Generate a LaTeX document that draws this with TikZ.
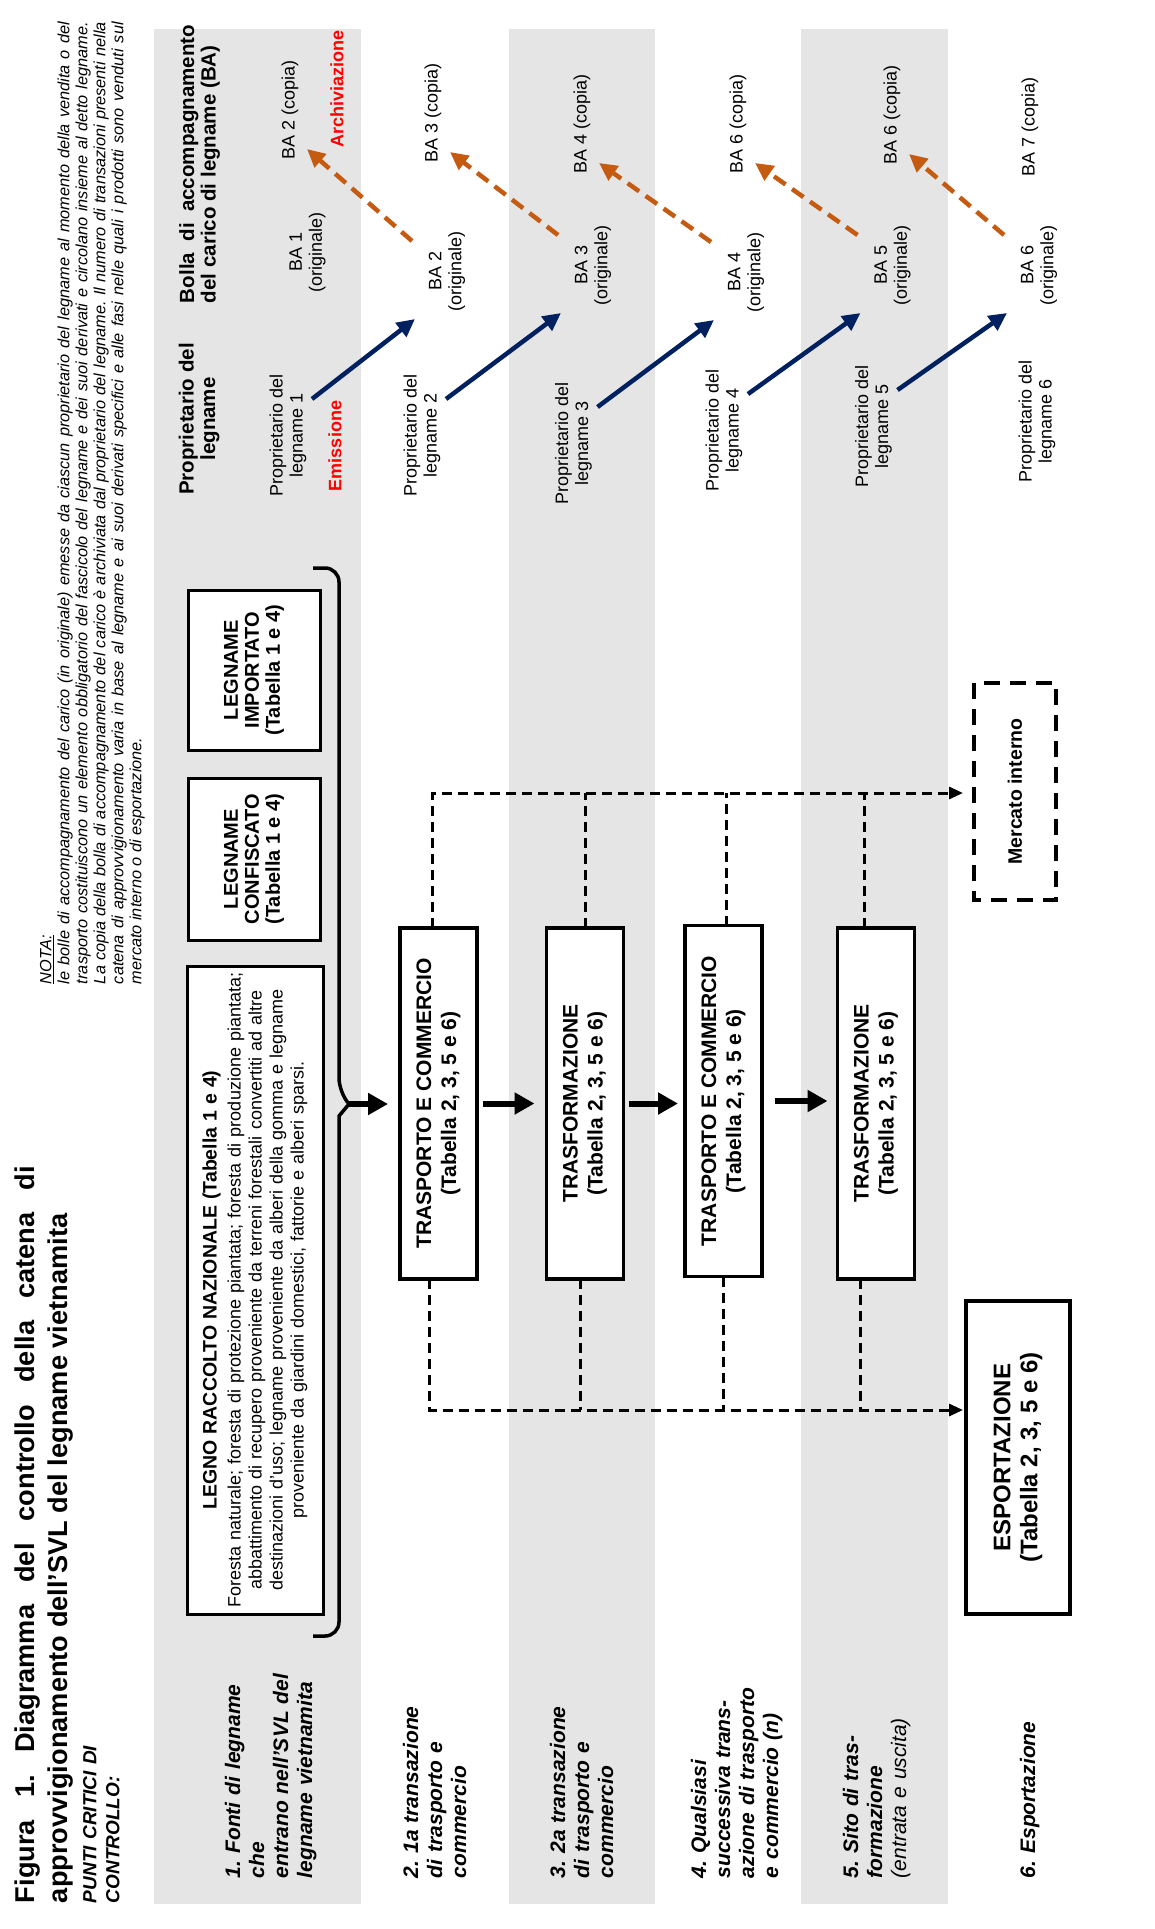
\documentclass[tikz,border=0pt]{standalone}
\usepackage{fontspec}
\setmainfont{Liberation Sans}
\usetikzlibrary{arrows.meta,calc}
\definecolor{bandgray}{RGB}{229,229,229}
\definecolor{navyblue}{RGB}{0,32,96}
\definecolor{burnt}{RGB}{197,90,17}
\definecolor{redlabel}{RGB}{255,0,0}
\newcommand{\setfs}[2]{\fontsize{#1}{#2}\selectfont}
\hyphenpenalty=10000
\exhyphenpenalty=10000
\frenchspacing
\begin{document}
\begin{tikzpicture}[x=1pt,y=-1pt,
  every node/.style={rotate=90, inner sep=0pt, outer sep=0pt},
  srcbox/.style={draw, line width=3pt, fill=white, align=center, font=\bfseries\setfs{20}{21}},
  flowbox/.style={draw, line width=3.5pt, fill=white, align=center, font=\bfseries\setfs{21}{25}, minimum width=351pt, minimum height=77pt},
  rowlabel/.style={anchor=north west, text width=215pt, align=left, font=\bfseries\itshape\setfs{21}{24}},
  ownertxt/.style={align=center, font=\setfs{18}{20}},
  redword/.style={font=\bfseries\setfs{18}{20}, text=redlabel},
  flowarrow/.style={line width=6pt, -{Triangle[length=20pt,width=21pt]}},
  dashconn/.style={line width=3pt, dash pattern=on 10pt off 6pt},
  dashtip/.style={-{Triangle[length=14pt,width=12pt]}},
  bluearrow/.style={line width=4.5pt, navyblue, -{Triangle[length=18pt,width=17pt]}},
  orangearrow/.style={line width=4.5pt, burnt, dash pattern=on 14pt off 8pt, -{Triangle[length=18pt,width=17pt]}},
]
\useasboundingbox (0,0) rectangle (1155,1929);
\fill[white] (0,0) rectangle (1155,1929);

% grey bands
\fill[bandgray] (154,29) rectangle (361,1904);
\fill[bandgray] (509,29) rectangle (655,1904);
\fill[bandgray] (801,29) rectangle (948,1904);

% title and note
\node[anchor=north west, text width=737pt, align=justify, font=\bfseries\setfs{27.2}{33}] (title) at (15,1903)
  {Figura 1. Diagramma del controllo della catena di\linebreak approvvigionamento dell'SVL del legname vietnamita};
\node[anchor=north west, text width=200pt, align=left, font=\bfseries\itshape\setfs{19}{23}] (punti) at (83,1903)
  {PUNTI CRITICI DI\\CONTROLLO:};
\node[anchor=north west, text width=962pt, align=justify, font=\itshape\setfs{16.3}{18}] (nota) at (40,984)
  {\underline{NOTA:}\\le bolle di accompagnamento del carico (in originale) emesse da ciascun proprietario del legname al momento della vendita o del\linebreak
   trasporto costituiscono un elemento obbligatorio del fascicolo del legname e dei suoi derivati e circolano insieme al detto legname.\linebreak
   La copia della bolla di accompagnamento del carico è archiviata dal proprietario del legname. Il numero di transazioni presenti nella\linebreak
   catena di approvvigionamento varia in base al legname e ai suoi derivati specifici e alle fasi nelle quali i prodotti sono venduti sul\linebreak
   mercato interno o di esportazione.};

% row labels
\node[rowlabel] (L1) at (225,1878) {1. Fonti di legname\\che\\entrano nell'SVL del\\legname vietnamita};
\node[rowlabel] (L2) at (403,1878) {2. 1a transazione\\di trasporto e\\commercio};
\node[rowlabel] (L3) at (550,1878) {3. 2a transazione\\di trasporto e\\commercio};
\node[rowlabel] (L4) at (691,1878) {4. Qualsiasi\\successiva trans-\\azione di trasporto\\e commercio (n)};
\node[rowlabel] (L5) at (843,1878) {5. Sito di tras-\\formazione\\ \mdseries (entrata e uscita)};
\node[rowlabel] (L6) at (1020,1878) {6. Esportazione};

% source boxes
\node[srcbox, minimum width=648pt, minimum height=136pt, text width=636pt, font=\setfs{18}{21}] (legno) at (255,1290)
  {{\bfseries\setfs{19.5}{23}LEGNO RACCOLTO NAZIONALE (Tabella 1 e 4)\par}\vspace{3pt}
   Foresta naturale; foresta di protezione piantata; foresta di produzione piantata;\\
   abbattimento di recupero proveniente da terreni forestali convertiti ad altre\\
   destinazioni d'uso; legname proveniente da alberi della gomma e legname\\
   proveniente da giardini domestici, fattorie e alberi sparsi.\par};
\node[srcbox, minimum width=162pt, minimum height=132pt] (confiscato) at (254,859) {LEGNAME\\CONFISCATO\\(Tabella 1 e 4)};
\node[srcbox, minimum width=160pt, minimum height=132pt] (importato) at (254,670) {LEGNAME\\IMPORTATO\\(Tabella 1 e 4)};

% brace
\draw[line width=3.5pt, rounded corners=14pt] (313,568) -- (339,568) -- (339,1092) [sharp corners] -- (349,1104) -- (339,1116) [rounded corners=14pt] -- (339,1636) -- (313,1636);
\coordinate (cusp) at (349,1104);

% flow boxes
\node[flowbox] (tc1) at (438.5,1103.5) {TRASPORTO E COMMERCIO\\(Tabella 2, 3, 5 e 6)};
\node[flowbox] (tc2) at (585,1103.5) {TRASFORMAZIONE\\(Tabella 2, 3, 5 e 6)};
\node[flowbox] (tc3) at (723.5,1101) {TRASPORTO E COMMERCIO\\(Tabella 2, 3, 5 e 6)};
\node[flowbox] (tc4) at (876,1103.5) {TRASFORMAZIONE\\(Tabella 2, 3, 5 e 6)};

\draw[flowarrow, shorten >=12pt] (cusp) -- (cusp -| tc1.north);
\draw[flowarrow, shorten <=6pt, shorten >=12pt] (tc1.south) -- (tc1.south -| tc2.north);
\draw[flowarrow, shorten <=5pt, shorten >=7pt] (tc2.south) -- (tc2.south -| tc3.north);
\draw[flowarrow, shorten <=13pt, shorten >=10pt] (tc3.south) -- (tc3.south -| tc4.north);

% destinations
\node[draw, line width=3.5pt, dash pattern=on 16pt off 10pt, minimum width=217pt, minimum height=82pt, font=\bfseries\setfs{19.5}{22}] (mercato) at (1015,791.5) {Mercato interno};
\node[draw, line width=4pt, fill=white, align=center, font=\bfseries\setfs{24}{27}, minimum width=313pt, minimum height=104pt] (export) at (1018,1457.5) {ESPORTAZIONE\\(Tabella 2, 3, 5 e 6)};

\coordinate (tl) at (963,793);
\coordinate (bl) at (963,1410);
\draw[dashconn, dashtip] ([xshift=-6pt]tc1.east) |- (tl);
\draw[dashconn] (tc2.east) -- (tc2.east |- tl);
\draw[dashconn] ([xshift=3pt]tc3.east) -- ([xshift=3pt]tc3.east |- tl);
\draw[dashconn] ([xshift=-12pt]tc4.east) -- ([xshift=-12pt]tc4.east |- tl);
\draw[dashconn, dashtip] ([xshift=-9pt]tc1.west) |- (bl);
\draw[dashconn] ([xshift=-5pt]tc2.west) -- ([xshift=-5pt]tc2.west |- bl);
\draw[dashconn] (tc3.west) -- (tc3.west |- bl);
\draw[dashconn] ([xshift=-16pt]tc4.west) -- ([xshift=-16pt]tc4.west |- bl);

% right-hand columns
\node[align=center, font=\bfseries\setfs{20.5}{21.5}] (hdrP) at (199,419) {Proprietario del\\legname};
\node[text width=278pt, align=justify, font=\bfseries\setfs{20.5}{21.5}] (hdrBA) at (199.5,164) {\parfillskip=0pt Bolla di accompagnamento del carico di legname (BA)};

\node[ownertxt] (P1) at (288,435) {Proprietario del\\legname 1};
\node[ownertxt] (P2) at (422,435) {Proprietario del\\legname 2};
\node[ownertxt] (P3) at (573.5,443) {Proprietario del\\legname 3};
\node[ownertxt] (P4) at (724,430) {Proprietario del\\legname 4};
\node[ownertxt] (P5) at (873.5,426) {Proprietario del\\legname 5};
\node[ownertxt] (P6) at (1037,421) {Proprietario del\\legname 6};

\node[ownertxt] (BA1) at (307.5,252) {BA 1\\(originale)};
\node[ownertxt] (BA2) at (447,271) {BA 2\\(originale)};
\node[ownertxt] (BA3) at (593,265) {BA 3\\(originale)};
\node[ownertxt] (BA4) at (746,272) {BA 4\\(originale)};
\node[ownertxt] (BA5) at (892.5,265) {BA 5\\(originale)};
\node[ownertxt] (BA6) at (1039,265) {BA 6\\(originale)};

\node[ownertxt] (C2) at (290,110) {BA 2 (copia)};
\node[ownertxt] (C3) at (433,113) {BA 3 (copia)};
\node[ownertxt] (C4) at (582,124) {BA 4 (copia)};
\node[ownertxt] (C6a) at (738,124) {BA 6 (copia)};
\node[ownertxt] (C6b) at (892,115) {BA 6 (copia)};
\node[ownertxt] (C7) at (1030,127) {BA 7 (copia)};

\node[redword] (emis) at (335,446) {Emissione};
\node[redword] (arch) at (337,89) {Archiviazione};

\draw[bluearrow] ($(P1.center)+(24,-36)$) -- ($(BA2.center)+(-32,48)$);
\draw[bluearrow] ($(P2.center)+(24,-36)$) -- ($(BA3.center)+(-32,48)$);
\draw[bluearrow] ($(P3.center)+(24,-36)$) -- ($(BA4.center)+(-32,48)$);
\draw[bluearrow] ($(P4.center)+(24,-36)$) -- ($(BA5.center)+(-32,48)$);
\draw[bluearrow] ($(P5.center)+(24,-36)$) -- ($(BA6.center)+(-32,48)$);

\draw[orangearrow] ($(BA2.center)+(-35,-30)$) -- ($(C2.center)+(17,39)$);
\draw[orangearrow] ($(BA3.center)+(-35,-30)$) -- ($(C3.center)+(17,39)$);
\draw[orangearrow] ($(BA4.center)+(-35,-30)$) -- ($(C4.center)+(17,39)$);
\draw[orangearrow] ($(BA5.center)+(-35,-30)$) -- ($(C6a.center)+(17,39)$);
\draw[orangearrow] ($(BA6.center)+(-35,-30)$) -- ($(C6b.center)+(17,39)$);
\end{tikzpicture}
\end{document}
